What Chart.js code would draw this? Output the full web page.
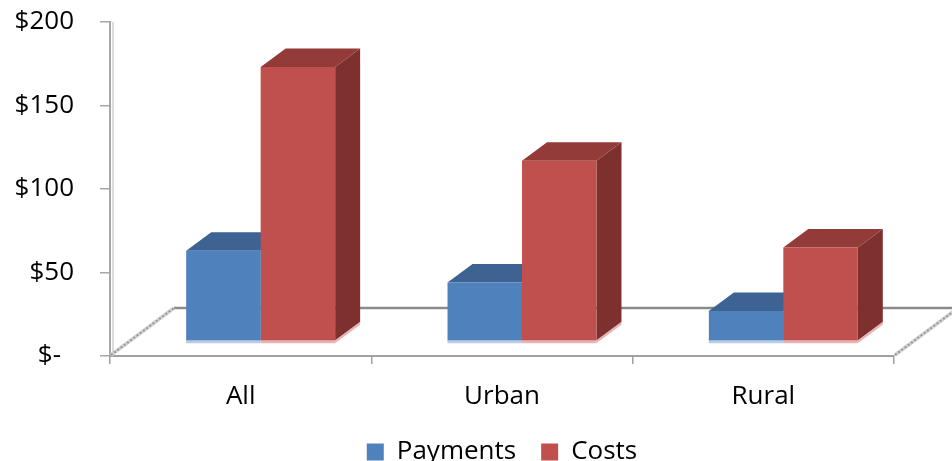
<!DOCTYPE html>
<html>
<head>
<meta charset="utf-8">
<title>Payments and Costs</title>
<script src="https://cdn.jsdelivr.net/npm/chart.js@4/dist/chart.umd.min.js"></script>
<style>
  html, body { margin: 0; padding: 0; background: #ffffff; }
  canvas { display: block; }
</style>
</head>
<body>
<canvas id="chart" width="952" height="461"></canvas>
<script>
// Data
const categories = ['All', 'Urban', 'Rural'];
const payments = [54, 35, 18];
const costs = [164, 108, 56];
const seriesNames = ['Payments', 'Costs'];
const yMin = 0;
const yMax = 200;
const yStep = 50;

// Palette (front, top, side, bottom highlight)
const PALETTES = [
  { front: '#4f81bd', top: '#3c6391', side: '#355882', glow: '#b9cce4' },
  { front: '#c0504d', top: '#923b39', side: '#7d302e', glow: '#e8b5b4' }
];

// Oblique projection offsets
const DEPTH = {
  frontX: 20, frontY: 15,   // bar front plane relative to the axis plane
  barX: 25, barY: 18.5,     // bar depth
  floorX: 64, floorY: 48    // floor depth
};

const FONT = '"Open Sans", "DejaVu Sans", sans-serif';
const PLOT = { left: 110, top: 22, bottom: 356, right: 58, legend: 47 };

function face(ctx, pts, color) {
  ctx.beginPath();
  ctx.moveTo(pts[0][0], pts[0][1]);
  for (let i = 1; i < pts.length; i++) ctx.lineTo(pts[i][0], pts[i][1]);
  ctx.closePath();
  ctx.fillStyle = color;
  ctx.fill();
}

const bars3d = {
  id: 'bars3d',
  beforeDatasetsDraw(chart) {
    const ctx = chart.ctx;
    const a = chart.chartArea;
    const y0 = chart.scales.y.getPixelForValue(0);
    const fx = DEPTH.floorX, fy = DEPTH.floorY;
    ctx.save();
    // wall thickness shading next to the value axis
    ctx.strokeStyle = '#dcdcdc';
    ctx.lineWidth = 2;
    ctx.beginPath();
    ctx.moveTo(a.left + 3, a.top);
    ctx.lineTo(a.left + 3, y0 - 2);
    ctx.stroke();
    // back edge of the floor
    ctx.strokeStyle = '#8a8a8a';
    ctx.lineWidth = 2.5;
    ctx.beginPath();
    ctx.moveTo(a.left + fx, y0 - fy);
    ctx.lineTo(a.right + fx, y0 - fy);
    ctx.stroke();
    // side edges of the floor
    [a.left, a.right].forEach(x => {
      ctx.lineCap = 'butt';
      ctx.strokeStyle = '#d2d2d2';
      ctx.lineWidth = 3.5;
      ctx.setLineDash([]);
      ctx.beginPath();
      ctx.moveTo(x + 1, y0 - 1);
      ctx.lineTo(x + fx, y0 - fy);
      ctx.stroke();
      ctx.strokeStyle = '#999999';
      ctx.lineWidth = 2;
      ctx.setLineDash([2, 2]);
      ctx.beginPath();
      ctx.moveTo(x + 1, y0 - 1);
      ctx.lineTo(x + fx, y0 - fy);
      ctx.stroke();
    });
    ctx.setLineDash([]);

    // top and side faces of every bar, in series order; the front faces
    // are drawn afterwards by the bar controller and cover what lies behind
    ctx.translate(DEPTH.frontX, -DEPTH.frontY);
    const dx = DEPTH.barX, dy = DEPTH.barY;
    chart.data.datasets.forEach((ds, i) => {
      const pal = PALETTES[i];
      chart.getDatasetMeta(i).data.forEach(el => {
        const p = el.getProps(['x', 'y', 'base', 'width'], true);
        const l = p.x - p.width / 2, r = p.x + p.width / 2;
        const t = Math.min(p.y, p.base), b = Math.max(p.y, p.base);
        ctx.fillStyle = pal.glow;
        ctx.fillRect(l, b - 1, r - l, 4);
        face(ctx, [[r, b + 3], [r + dx, b + 3 - dy], [r + dx, b - dy], [r, b]], pal.glow);
        face(ctx, [[r, t], [r + dx, t - dy], [r + dx, b - dy], [r, b]], pal.side);
        face(ctx, [[l, t], [r, t], [r + dx, t - dy], [l + dx, t - dy]], pal.top);
      });
    });
    ctx.restore();
  },
  beforeDatasetDraw(chart) {
    chart.ctx.save();
    chart.ctx.translate(DEPTH.frontX, -DEPTH.frontY);
  },
  afterDatasetDraw(chart) {
    chart.ctx.restore();
  }
};

new Chart(document.getElementById('chart'), {
  type: 'bar',
  data: {
    labels: categories,
    datasets: [
      { label: seriesNames[0], data: payments, backgroundColor: PALETTES[0].front, clip: false },
      { label: seriesNames[1], data: costs, backgroundColor: PALETTES[1].front, clip: false }
    ]
  },
  options: {
    responsive: false,
    animation: false,
    devicePixelRatio: 1,
    events: [],
    layout: { padding: { top: PLOT.top, right: PLOT.right, left: 0, bottom: 0 } },
    datasets: { bar: { categoryPercentage: 0.57, barPercentage: 1.0, borderWidth: 0 } },
    scales: {
      x: {
        offset: true,
        grid: { offset: true, drawOnChartArea: false, tickLength: 8, color: '#a0a0a0', lineWidth: 1.5 },
        border: { color: '#a0a0a0', width: 2 },
        ticks: { color: '#000000', padding: 17, font: { family: FONT, size: 26 } },
        afterFit(scale) {
          scale.height = scale.chart.height - PLOT.bottom - PLOT.legend;
        }
      },
      y: {
        min: yMin,
        max: yMax,
        grid: { drawOnChartArea: false, tickLength: 10, color: '#a6a6a6', lineWidth: 1.5 },
        border: { color: '#a6a6a6', width: 2 },
        ticks: {
          stepSize: yStep,
          color: '#000000',
          padding: 26,
          font: { family: FONT, size: 26 },
          callback: v => v === 0 ? '$-\u2002' : '$' + v
        },
        afterFit(scale) {
          scale.width = PLOT.left;
          scale.paddingTop = 0;
          scale.paddingBottom = 0;
        }
      }
    },
    plugins: {
      tooltip: { enabled: false },
      legend: {
        position: 'bottom',
        fullSize: false,
        maxHeight: PLOT.legend,
        labels: {
          boxWidth: 17,
          boxHeight: 17,
          padding: 25,
          color: '#000000',
          font: { family: FONT, size: 26 }
        }
      }
    }
  },
  plugins: [bars3d]
});
</script>
</body>
</html>
